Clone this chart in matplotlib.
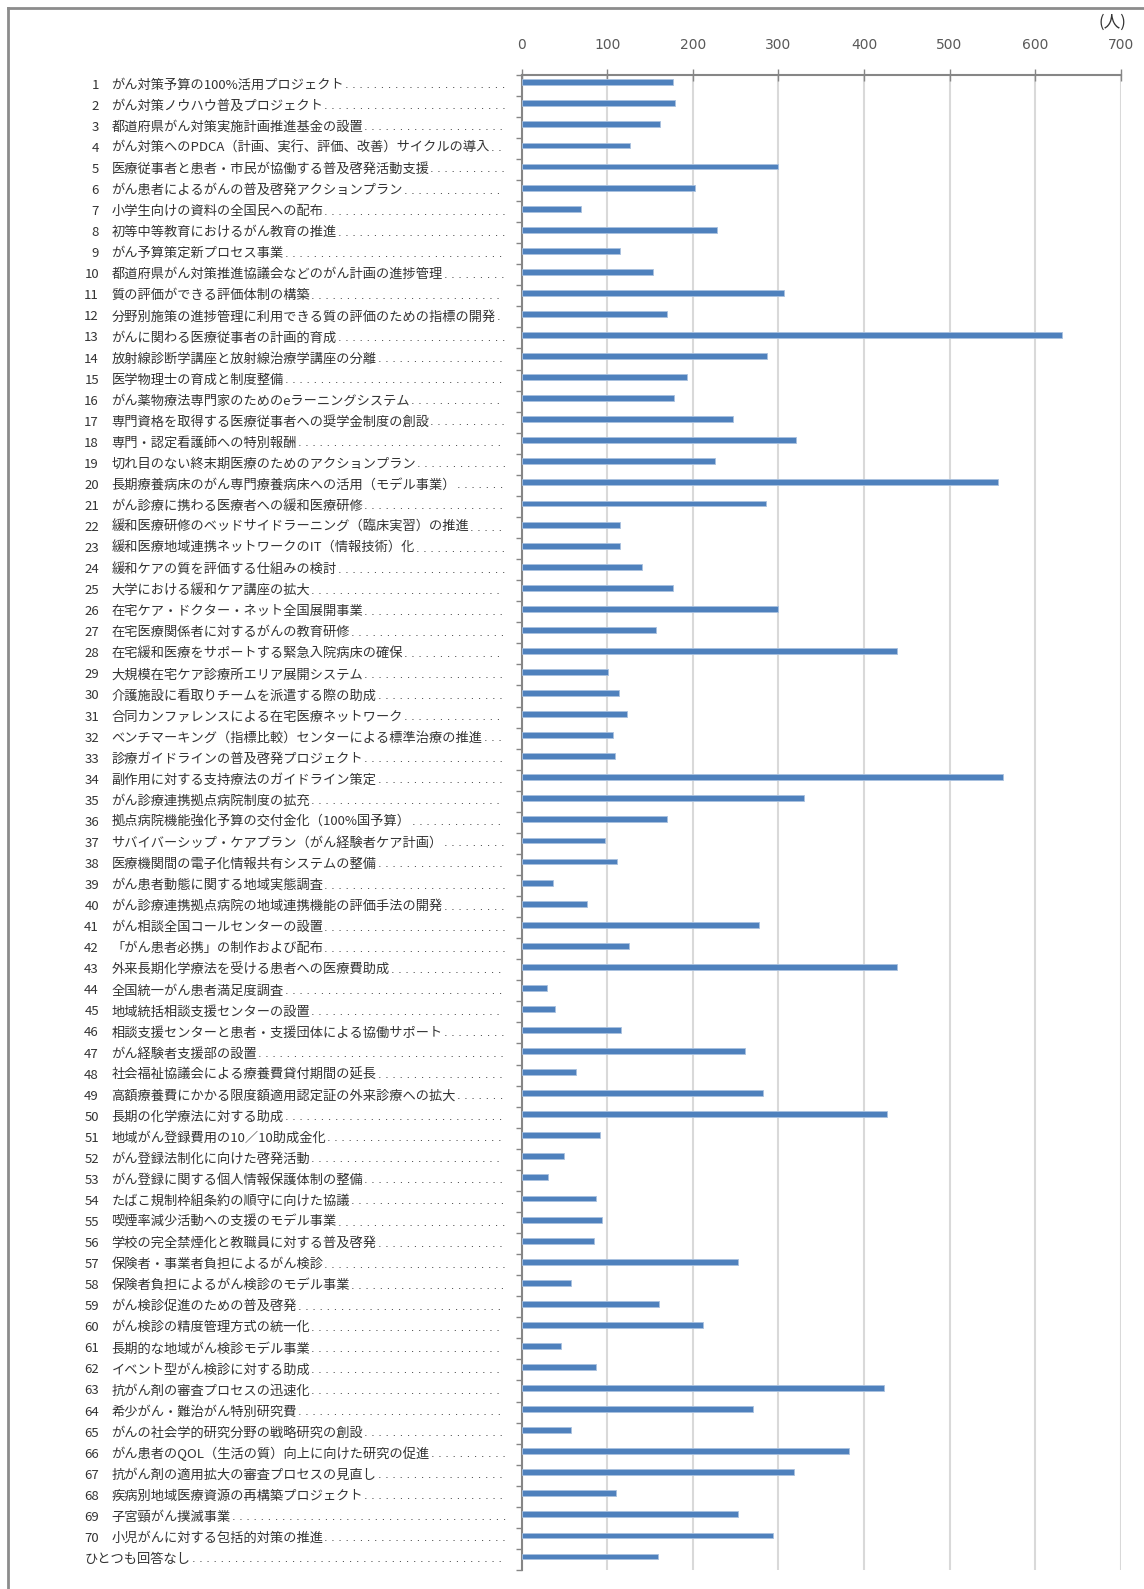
import matplotlib
matplotlib.use('Agg')
import matplotlib.pyplot as plt
import matplotlib.transforms as mtransforms
from matplotlib.lines import Line2D
import numpy as np

plt.rcParams['font.family'] = ['Noto Sans CJK JP', 'DejaVu Sans']

# 施策ごとの回答数（人）
labels = [
    'がん対策予算の100%活用プロジェクト',
    'がん対策ノウハウ普及プロジェクト',
    '都道府県がん対策実施計画推進基金の設置',
    'がん対策へのPDCA（計画、実行、評価、改善）サイクルの導入',
    '医療従事者と患者・市民が協働する普及啓発活動支援',
    'がん患者によるがんの普及啓発アクションプラン',
    '小学生向けの資料の全国民への配布',
    '初等中等教育におけるがん教育の推進',
    'がん予算策定新プロセス事業',
    '都道府県がん対策推進協議会などのがん計画の進捗管理',
    '質の評価ができる評価体制の構築',
    '分野別施策の進捗管理に利用できる質の評価のための指標の開発',
    'がんに関わる医療従事者の計画的育成',
    '放射線診断学講座と放射線治療学講座の分離',
    '医学物理士の育成と制度整備',
    'がん薬物療法専門家のためのeラーニングシステム',
    '専門資格を取得する医療従事者への奨学金制度の創設',
    '専門・認定看護師への特別報酬',
    '切れ目のない終末期医療のためのアクションプラン',
    '長期療養病床のがん専門療養病床への活用（モデル事業）',
    'がん診療に携わる医療者への緩和医療研修',
    '緩和医療研修のベッドサイドラーニング（臨床実習）の推進',
    '緩和医療地域連携ネットワークのIT（情報技術）化',
    '緩和ケアの質を評価する仕組みの検討',
    '大学における緩和ケア講座の拡大',
    '在宅ケア・ドクター・ネット全国展開事業',
    '在宅医療関係者に対するがんの教育研修',
    '在宅緩和医療をサポートする緊急入院病床の確保',
    '大規模在宅ケア診療所エリア展開システム',
    '介護施設に看取りチームを派遣する際の助成',
    '合同カンファレンスによる在宅医療ネットワーク',
    'ベンチマーキング（指標比較）センターによる標準治療の推進',
    '診療ガイドラインの普及啓発プロジェクト',
    '副作用に対する支持療法のガイドライン策定',
    'がん診療連携拠点病院制度の拡充',
    '拠点病院機能強化予算の交付金化（100%国予算）',
    'サバイバーシップ・ケアプラン（がん経験者ケア計画）',
    '医療機関間の電子化情報共有システムの整備',
    'がん患者動態に関する地域実態調査',
    'がん診療連携拠点病院の地域連携機能の評価手法の開発',
    'がん相談全国コールセンターの設置',
    '「がん患者必携」の制作および配布',
    '外来長期化学療法を受ける患者への医療費助成',
    '全国統一がん患者満足度調査',
    '地域統括相談支援センターの設置',
    '相談支援センターと患者・支援団体による協働サポート',
    'がん経験者支援部の設置',
    '社会福祉協議会による療養費貸付期間の延長',
    '高額療養費にかかる限度額適用認定証の外来診療への拡大',
    '長期の化学療法に対する助成',
    '地域がん登録費用の10／10助成金化',
    'がん登録法制化に向けた啓発活動',
    'がん登録に関する個人情報保護体制の整備',
    'たばこ規制枠組条約の順守に向けた協議',
    '喫煙率減少活動への支援のモデル事業',
    '学校の完全禁煙化と教職員に対する普及啓発',
    '保険者・事業者負担によるがん検診',
    '保険者負担によるがん検診のモデル事業',
    'がん検診促進のための普及啓発',
    'がん検診の精度管理方式の統一化',
    '長期的な地域がん検診モデル事業',
    'イベント型がん検診に対する助成',
    '抗がん剤の審査プロセスの迅速化',
    '希少がん・難治がん特別研究費',
    'がんの社会学的研究分野の戦略研究の創設',
    'がん患者のQOL（生活の質）向上に向けた研究の促進',
    '抗がん剤の適用拡大の審査プロセスの見直し',
    '疾病別地域医療資源の再構築プロジェクト',
    '子宮頸がん撲滅事業',
    '小児がんに対する包括的対策の推進',
    'ひとつも回答なし',
]

values = [
    177, 179, 162, 127, 299, 202, 69, 228, 115, 153,
    307, 170, 631, 287, 193, 178, 247, 321, 226, 557,
    286, 115, 115, 141, 177, 300, 157, 439, 101, 114,
    123, 107, 109, 563, 330, 170, 97, 111, 37, 76,
    277, 125, 439, 30, 39, 116, 261, 64, 282, 427,
    92, 50, 31, 87, 94, 85, 253, 58, 160, 212,
    46, 87, 423, 270, 58, 383, 318, 110, 253, 294,
    159,
]

W, H = 1144, 1589
fig = plt.figure(figsize=(W / 100, H / 100), dpi=100)
ax = fig.add_axes([521.7 / W, 1 - 1570 / H, (1120.7 - 521.7) / W, (1570 - 74.7) / H])

n = len(values)
y = np.arange(n)
ax.barh(y - 0.14, values, height=0.28, color='#4f81bd', edgecolor='#a9c1df',
        linewidth=0.6, zorder=3)

ax.set_xlim(0, 700)
ax.set_ylim(n - 0.5, -0.5)
ax.xaxis.tick_top()
ax.set_xticks(range(0, 701, 100))
ax.tick_params(axis='x', direction='inout', length=8, width=1, color='#868686',
               pad=12, labelsize=10, labelcolor='#595959')
for t in ax.get_xticklabels():
    t.set_family(['Liberation Sans Narrow', 'DejaVu Sans'])
ax.set_yticks([])
ax.set_yticks(np.arange(-0.5, n), minor=True)
ax.tick_params(axis='y', which='minor', direction='out', length=4, width=1, color='#868686')
ax.tick_params(axis='y', which='minor', labelleft=False)
ax.grid(axis='x', color='#d9d9d9', linewidth=1.5, zorder=0)
ax.set_axisbelow(True)
for s in ['right', 'bottom']:
    ax.spines[s].set_visible(False)
for s in ['top', 'left']:
    ax.spines[s].set_color('#868686')
    ax.spines[s].set_linewidth(1.5)

# ラベル
tr = mtransforms.blended_transform_factory(fig.transFigure, ax.transData)
txts = []
for i, lab in enumerate(labels):
    if i < 70:
        ax.text(99 / W, i, str(i + 1), transform=tr, ha='right', va='center',
                fontsize=9.5, color='#333333')
        t = ax.text(111.5 / W, i, lab, transform=tr, ha='left', va='center',
                    fontsize=9.5, color='#333333')
    else:
        t = ax.text(85 / W, i, lab, transform=tr, ha='left', va='center',
                    fontsize=9.5, color='#333333')
    txts.append(t)

fig.text(1112 / W, 1 - 22 / H, '(人)', ha='center', va='center', fontsize=12, color='#333333')

# 外枠
fig.add_artist(Line2D([8 / W, 8 / W], [0, 1 - 8 / H], color='#8c8c8c', lw=2))
fig.add_artist(Line2D([8 / W, 1], [1 - 8 / H, 1 - 8 / H], color='#8c8c8c', lw=2))

# リーダー点（テキストの直後から右端まで）
fig.canvas.draw()
r = fig.canvas.get_renderer()
probe1 = fig.text(0, 0, '.', fontsize=8, family='DejaVu Sans')
probe2 = fig.text(0, 0, '. ' * 20 + '.', fontsize=8, family='DejaVu Sans')
w1 = probe1.get_window_extent(r).width
w2 = probe2.get_window_extent(r).width
unit = (w2 - w1) / 20
probe1.remove()
probe2.remove()
xend = 507
for i, t in enumerate(txts):
    x1 = t.get_window_extent(r).x1 + 1
    k = int((xend - x1 - w1) / unit) + 1
    if k > 0:
        ax.text(x1 / W, i, '. ' * (k - 1) + '.', transform=tr,
                ha='left', va='center', fontsize=8, family='DejaVu Sans', color='#333333')

fig.savefig('out.png', dpi=100, facecolor='white')
